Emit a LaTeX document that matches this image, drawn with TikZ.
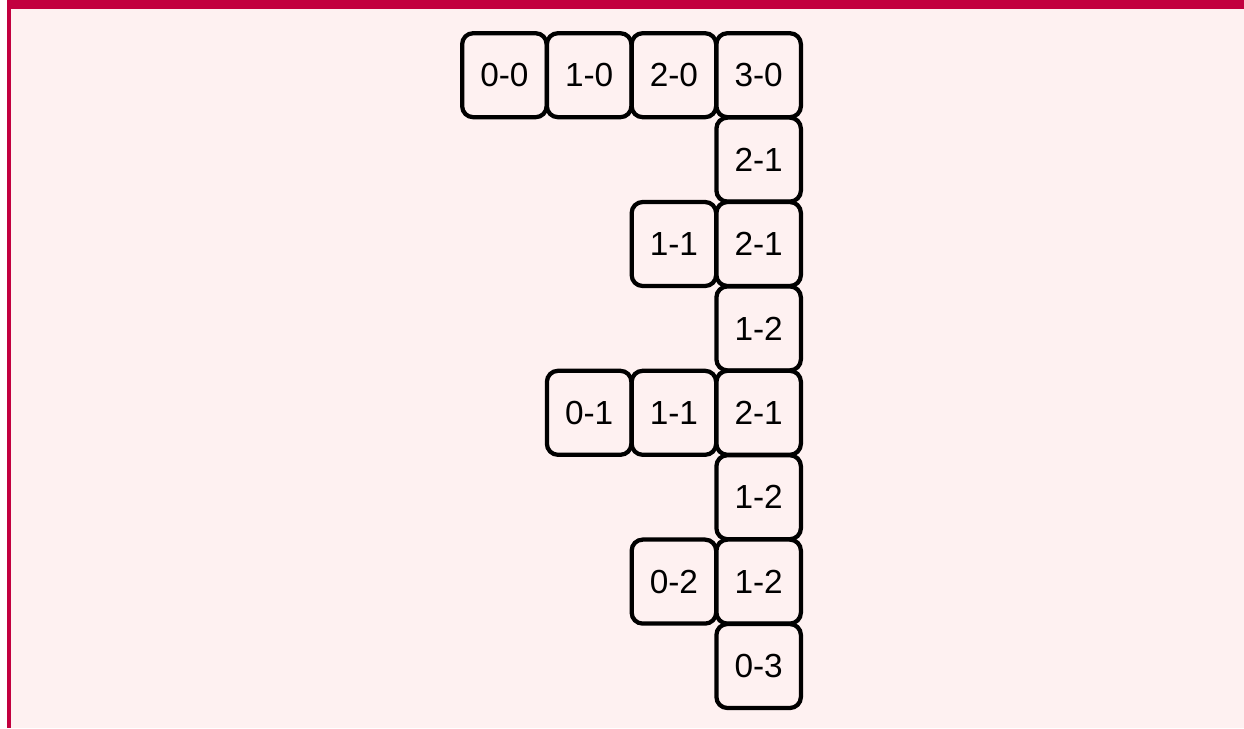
\documentclass[tikz,border=0pt]{standalone}
\usepackage{fontspec}
\setmainfont{Liberation Sans}
\definecolor{frameRed}{RGB}{194,0,63}
\definecolor{paneBg}{RGB}{254,241,241}
\tikzset{
  cell/.style={draw=black, line width=0.085cm, rounded corners=0.22cm, fill=paneBg,
    minimum width=1.69cm, minimum height=1.68cm, inner sep=0pt,
    font=\fontsize{19}{21}\selectfont}
}

\begin{document}
\begin{tikzpicture}[x=0.02cm, y=-0.02cm]
        \useasboundingbox (0,0) rectangle (1244,728);
        % pane and its frame
        \fill[paneBg] (7,0) rectangle (1244,728);
        \fill[frameRed] (7,0) rectangle (1244,9);
        \fill[frameRed] (7,0) rectangle (11,728);
        % cells: column / row / label
        \foreach \col/\row/\txt in {0/0/0-0, 1/0/1-0, 2/0/2-0, 3/0/3-0,
                                    3/1/2-1,
                                    2/2/1-1, 3/2/2-1,
                                    3/3/1-2,
                                    1/4/0-1, 2/4/1-1, 3/4/2-1,
                                    3/5/1-2,
                                    2/6/0-2, 3/6/1-2,
                                    3/7/0-3} {
          \node[cell] (c-\row-\col) at ({504.4+84.75*\col},{75.2+84.4*\row}) {\txt};
        }
      \end{tikzpicture}
\end{document}
